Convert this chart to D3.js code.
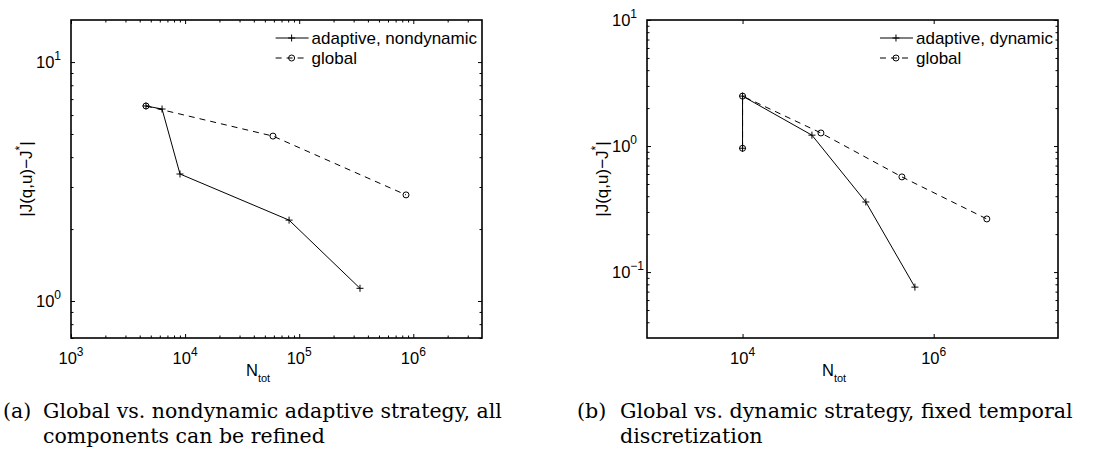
<!DOCTYPE html>
<html>
<head>
<meta charset="utf-8">
<script src="https://cdn.jsdelivr.net/npm/d3@7"></script>
<style>
  body { margin: 0; background: #fff; }
  svg { display: block; }
</style>
</head>
<body>
<svg id="chart" width="1110" height="452"></svg>
<script>
// (a) nondynamic adaptive vs global
const leftAdaptiveN = [4540, 6280, 9020, 81500, 341000]
const leftAdaptiveErr = [6.55, 6.36, 3.40, 2.18, 1.13]
const leftGlobalN = [4540, 58900, 863000]
const leftGlobalErr = [6.55, 4.90, 2.78]

// (b) dynamic adaptive vs global
const rightAdaptiveN = [1e4, 1e4, 53200, 195000, 636000]
const rightAdaptiveErr = [0.96, 2.49, 1.22, 0.36, 0.076]
const rightGlobalN = [1e4, 1e4, 66100, 465000, 3.6e6]
const rightGlobalErr = [0.96, 2.49, 1.27, 0.569, 0.264]

// tick exponents (labels are 10^k)
const leftXExps = [3, 4, 5, 6]
const leftYExps = [0, 1]
const rightXExps = [4, 6]
const rightYExps = [-1, 0, 1]

const leftLegend = ['adaptive, nondynamic', 'global']
const rightLegend = ['adaptive, dynamic', 'global']

const captionA = ['(a)', 'Global vs. nondynamic adaptive strategy, all', 'components can be refined']
const captionB = ['(b)', 'Global vs. dynamic strategy, fixed temporal', 'discretization']

const SANS = '"Liberation Sans", Arial, sans-serif'
const SERIF = '"DejaVu Serif", serif'
const TICK_FS = 16.5

const svg = d3.select('#chart')

function powLabel(sel, exp) {
    sel.append('tspan').text('10')
    sel.append('tspan')
        .attr('dy', -8)
        .attr('font-size', 12)
        .text(exp < 0 ? '\u2212' + -exp : exp)
}

function minorTicks(domain, show) {
    const out = []
    if (!show) return out
    const lo = Math.floor(Math.log10(domain[0]))
    const hi = Math.ceil(Math.log10(domain[1]))
    for (let k = lo; k <= hi; k++) {
        for (let m = 2; m <= 9; m++) {
            const v = m * Math.pow(10, k)
            if (v > domain[0] && v < domain[1]) out.push(v)
        }
    }
    return out
}

function plusPath(cx, cy) {
    return `M${cx - 3.5},${cy}h7M${cx},${cy - 3.5}v7`
}

function drawPanel(o) {
    const g = svg.append('g')
    const x = d3.scaleLog().domain(o.xDomain).range([o.left, o.right])
    const y = d3.scaleLog().domain(o.yDomain).range([o.bottom, o.top])

    const xMajor = o.xExps.map(k => Math.pow(10, k))
    const yMajor = o.yExps.map(k => Math.pow(10, k))
    const xMinor = minorTicks(o.xDomain, o.xMinor)
    const yMinor = minorTicks(o.yDomain, true)

    const tickAxis = (axisFn, scale, vals, size, tr) =>
        g.append('g')
            .attr('transform', tr)
            .call(axisFn(scale).tickValues(vals).tickSize(-size).tickFormat(''))
            .call(a => a.select('.domain').remove())
            .call(a => a.selectAll('line').attr('stroke', '#000').attr('stroke-width', 1))

    tickAxis(d3.axisBottom, x, xMajor, 4, `translate(0,${o.bottom})`)
    tickAxis(d3.axisBottom, x, xMinor, 2.5, `translate(0,${o.bottom})`)
    tickAxis(d3.axisTop, x, xMajor, 4, `translate(0,${o.top})`)
    tickAxis(d3.axisTop, x, xMinor, 2.5, `translate(0,${o.top})`)
    tickAxis(d3.axisLeft, y, yMajor, 4, `translate(${o.left},0)`)
    tickAxis(d3.axisLeft, y, yMinor, 2.5, `translate(${o.left},0)`)
    tickAxis(d3.axisRight, y, yMajor, 4, `translate(${o.right},0)`)
    tickAxis(d3.axisRight, y, yMinor, 2.5, `translate(${o.right},0)`)

    g.append('rect')
        .attr('x', o.left)
        .attr('y', o.top)
        .attr('width', o.right - o.left)
        .attr('height', o.bottom - o.top)
        .attr('fill', 'none')
        .attr('stroke', '#000')
        .attr('stroke-width', 1.6)

    // tick labels
    g.selectAll('text.xt')
        .data(o.xExps)
        .join('text')
        .attr('class', 'xt')
        .attr('x', d => x(Math.pow(10, d)))
        .attr('y', o.bottom + 26)
        .attr('text-anchor', 'middle')
        .attr('font-family', SANS)
        .attr('font-size', TICK_FS)
        .each(function (d) { powLabel(d3.select(this), d) })

    g.selectAll('text.yt')
        .data(o.yExps)
        .join('text')
        .attr('class', 'yt')
        .attr('x', o.left - 35)
        .attr('y', d => y(Math.pow(10, d)) + 6)
        .attr('font-family', SANS)
        .attr('font-size', TICK_FS)
        .each(function (d) { powLabel(d3.select(this), d) })

    // axis titles
    const xl = g.append('text')
        .attr('x', o.left + 175)
        .attr('y', o.bottom + 38)
        .attr('font-family', SANS)
        .attr('font-size', TICK_FS)
    xl.append('tspan').text('N')
    xl.append('tspan').attr('dy', 6).attr('font-size', 11).text('tot')

    const yl = g.append('text')
        .attr('transform', `translate(${o.left - 39},${(o.top + o.bottom) / 2}) rotate(-90)`)
        .attr('text-anchor', 'middle')
        .attr('font-family', SANS)
        .attr('font-size', 17)
    yl.append('tspan').text('|J(q,u)\u2212J')
    yl.append('tspan').attr('dy', -8).attr('font-size', 12).text('*')
    yl.append('tspan').attr('dy', 8).text('|')

    // series
    const line = d3.line().x(d => x(d[0])).y(d => y(d[1]))
    const adaptive = d3.zip(o.adaptiveN, o.adaptiveErr)
    const global = d3.zip(o.globalN, o.globalErr)

    g.append('path')
        .attr('d', line(global))
        .attr('fill', 'none')
        .attr('stroke', '#000')
        .attr('stroke-width', 1)
        .attr('stroke-dasharray', '6,5')
    g.append('path')
        .attr('d', line(adaptive))
        .attr('fill', 'none')
        .attr('stroke', '#000')
        .attr('stroke-width', 1)

    g.selectAll('circle.gm')
        .data(global)
        .join('circle')
        .attr('class', 'gm')
        .attr('cx', d => x(d[0]))
        .attr('cy', d => y(d[1]))
        .attr('r', 3)
        .attr('fill', 'none')
        .attr('stroke', '#000')
        .attr('stroke-width', 1)
    g.selectAll('path.am')
        .data(adaptive)
        .join('path')
        .attr('class', 'am')
        .attr('d', d => plusPath(x(d[0]), y(d[1])))
        .attr('stroke', '#000')
        .attr('stroke-width', 1)

    // legend, right-aligned inside the box
    const lg = g.append('g')
    const texts = lg.selectAll('text')
        .data(o.legend)
        .join('text')
        .attr('y', (d, i) => o.top + 18 + i * 20 + 6)
        .attr('font-family', SANS)
        .attr('font-size', 17)
        .text(d => d)
    const maxW = d3.max(texts.nodes(), n => n.getComputedTextLength())
    const tx = o.right - 5 - maxW
    texts.attr('x', tx)
    const r1 = o.top + 18
    const r2 = o.top + 38
    lg.append('line')
        .attr('x1', tx - 36).attr('x2', tx - 3).attr('y1', r1).attr('y2', r1)
        .attr('stroke', '#000').attr('stroke-width', 1)
    lg.append('path').attr('d', plusPath(tx - 20, r1)).attr('stroke', '#000').attr('stroke-width', 1)
    lg.append('line')
        .attr('x1', tx - 36).attr('x2', tx - 3).attr('y1', r2).attr('y2', r2)
        .attr('stroke', '#000').attr('stroke-width', 1).attr('stroke-dasharray', '6,5')
    lg.append('circle')
        .attr('cx', tx - 20).attr('cy', r2).attr('r', 3)
        .attr('fill', 'none').attr('stroke', '#000').attr('stroke-width', 1)
}

function drawCaption(lines, x0, x1, width) {
    const g = svg.append('g').attr('font-family', SERIF).attr('fill', '#000')
    const t1 = g.append('text').attr('x', x1).attr('y', 418).attr('font-size', 20).text(lines[1])
    const fs = 20 * width / t1.node().getComputedTextLength()
    t1.attr('font-size', fs)
    g.append('text').attr('x', x0).attr('y', 418).attr('font-size', fs).text(lines[0])
    g.append('text').attr('x', x1).attr('y', 443).attr('font-size', fs).text(lines[2])
}

drawPanel({
    left: 71, right: 482, top: 20, bottom: 338,
    xDomain: [1e3, 4e6], yDomain: [0.7, 15],
    xExps: leftXExps, yExps: leftYExps, xMinor: true,
    adaptiveN: leftAdaptiveN, adaptiveErr: leftAdaptiveErr,
    globalN: leftGlobalN, globalErr: leftGlobalErr,
    legend: leftLegend
})

drawPanel({
    left: 647, right: 1058, top: 20, bottom: 338,
    xDomain: [1e3, 2e7], yDomain: [0.03, 10],
    xExps: rightXExps, yExps: rightYExps, xMinor: false,
    adaptiveN: rightAdaptiveN, adaptiveErr: rightAdaptiveErr,
    globalN: rightGlobalN, globalErr: rightGlobalErr,
    legend: rightLegend
})

drawCaption(captionA, 3, 43, 459)
drawCaption(captionB, 577, 620, 453)
</script>
</body>
</html>
